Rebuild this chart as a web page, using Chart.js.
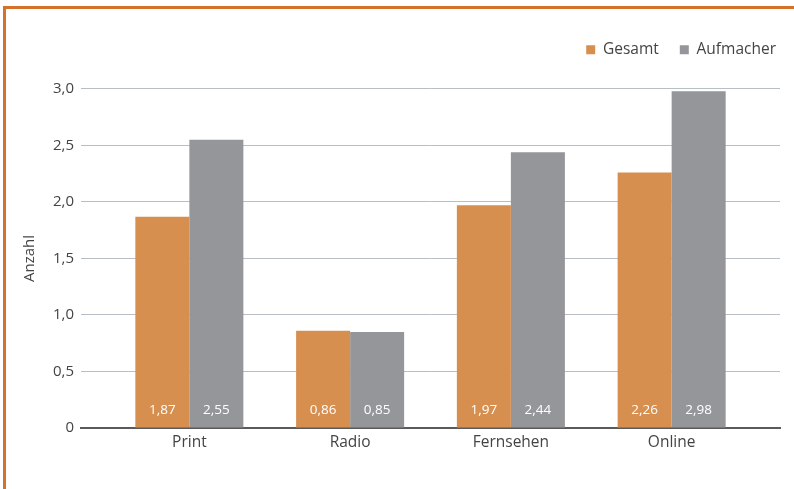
<!DOCTYPE html>
<html lang="de">
<head>
<meta charset="utf-8">
<title>Anzahl Gesamt / Aufmacher</title>
<script src="https://cdn.jsdelivr.net/npm/chart.js@4.4.1/dist/chart.umd.min.js"></script>
<style>
  html, body { margin: 0; padding: 0; background: #fff; }
  #wrap { position: relative; width: 794px; height: 489px; }
</style>
</head>
<body>
<div id="wrap"><canvas id="c" width="794" height="489"></canvas></div>
<script>
// Medien-Kategorien und Werte je Reihe
const categories = ['Print', 'Radio', 'Fernsehen', 'Online'];
const gesamt = [1.87, 0.86, 1.97, 2.26];
const aufmacher = [2.55, 0.85, 2.44, 2.98];
const seriesNames = ['Gesamt', 'Aufmacher'];
const yTicks = [0, 0.5, 1.0, 1.5, 2.0, 2.5, 3.0];

const ORANGE = '#d78f50';
const GREY = '#959699';
const TEXT = '#444444';
const FONT = '"Open Sans", "DejaVu Sans", Arial, sans-serif';

const fmtTick = v => v === 0 ? '0' : v.toFixed(1).replace('.', ',');
const fmtVal = v => v.toFixed(2).replace('.', ',');

const toPoints = arr => arr.map((v, i) => ({ x: i, y: v }));

// Orangefarbener Rahmen oben und links
const framePlugin = {
  id: 'frame',
  beforeDraw(chart) {
    const ctx = chart.ctx;
    ctx.save();
    ctx.fillStyle = '#d4712b';
    ctx.fillRect(3, 6, chart.width - 3, 3);
    ctx.fillRect(3, 6, 3, chart.height - 6);
    ctx.restore();
  }
};

// Wertbeschriftung unten in jedem Balken
const valueLabels = {
  id: 'valueLabels',
  afterDatasetsDraw(chart) {
    const ctx = chart.ctx;
    ctx.save();
    ctx.fillStyle = '#ffffff';
    ctx.font = '13.5px ' + FONT;
    ctx.textAlign = 'center';
    ctx.textBaseline = 'middle';
    chart.data.datasets.forEach((ds, di) => {
      chart.getDatasetMeta(di).data.forEach((bar, i) => {
        ctx.fillText(fmtVal(ds.data[i].y), bar.x, bar.base - 17);
      });
    });
    ctx.restore();
  }
};

new Chart(document.getElementById('c'), {
  type: 'bar',
  data: {
    datasets: [
      { label: seriesNames[0], data: toPoints(gesamt), backgroundColor: ORANGE, borderWidth: 0 },
      { label: seriesNames[1], data: toPoints(aufmacher), backgroundColor: GREY, borderWidth: 0 }
    ]
  },
  options: {
    responsive: false,
    animation: false,
    devicePixelRatio: 1,
    categoryPercentage: 0.672,
    barPercentage: 1.0,
    layout: { padding: { top: 21, right: -3, bottom: 0, left: 0 } },
    plugins: {
      tooltip: { enabled: false },
      legend: {
        position: 'top',
        align: 'end',
        weight: 1000,
        labels: {
          boxWidth: 9,
          boxHeight: 9,
          padding: 21,
          color: TEXT,
          font: { family: FONT, size: 15.5 }
        }
      },
      // Abstand zwischen Legende und Zeichenfläche
      subtitle: {
        display: true,
        text: '',
        position: 'top',
        weight: 500,
        font: { size: 2 },
        padding: { top: 0, bottom: 19 }
      }
    },
    scales: {
      x: {
        type: 'linear',
        offset: false,
        min: -0.674,
        max: categories.length - 1 + 0.674,
        afterBuildTicks: s => { s.ticks = categories.map((_, i) => ({ value: i })); },
        afterFit: s => { s.height = 61; },
        grid: { display: false, drawTicks: false },
        border: { display: true, color: '#5a5a5a', width: 2 },
        ticks: {
          color: TEXT,
          padding: 5,
          font: { family: FONT, size: 15.5 },
          callback: v => categories[v] ?? ''
        }
      },
      y: {
        min: 0,
        max: 3,
        afterBuildTicks: s => { s.ticks = yTicks.map(v => ({ value: v })); },
        afterFit: s => { s.width = 81; },
        grid: { color: '#b7bec5', lineWidth: 1, drawTicks: false },
        border: { display: false },
        ticks: {
          color: TEXT,
          padding: 7,
          font: { family: FONT, size: 15 },
          callback: v => fmtTick(v)
        },
        title: {
          display: true,
          text: 'Anzahl',
          color: TEXT,
          font: { family: FONT, size: 15 },
          padding: { top: 21, bottom: 0 }
        }
      },
      // schmaler rechter Rand neben der Zeichenfläche
      rightMargin: {
        type: 'linear',
        position: 'right',
        display: true,
        afterFit: s => { s.width = 17; },
        grid: { display: false, drawTicks: false },
        border: { display: false },
        ticks: { display: false }
      }
    }
  },
  plugins: [framePlugin, valueLabels]
});
</script>
</body>
</html>
